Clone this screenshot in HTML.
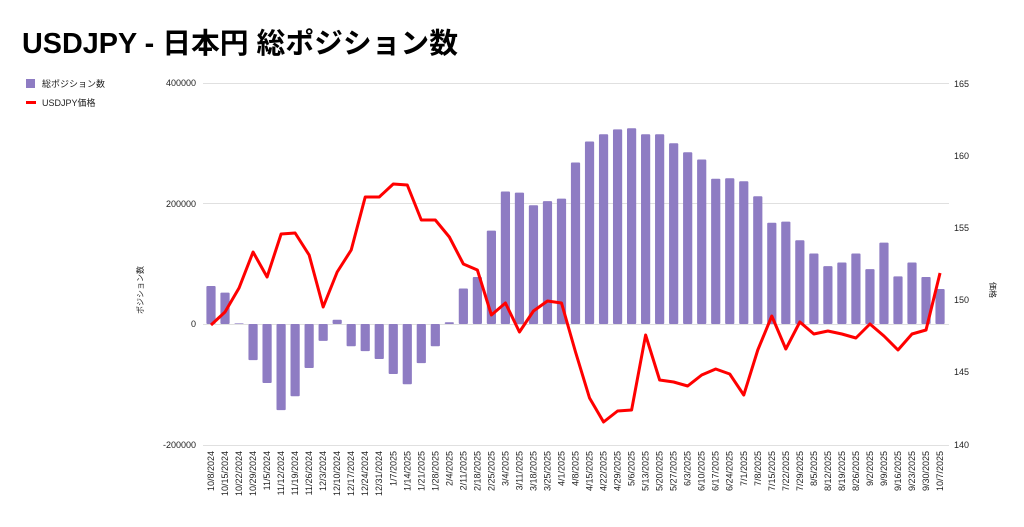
<!DOCTYPE html><html><head><meta charset="utf-8"><style>body{margin:0;background:#fff}svg{display:block}text{font-family:"Liberation Sans","Noto Sans CJK JP",sans-serif}</style></head><body>
<svg width="1024" height="527" xmlns="http://www.w3.org/2000/svg">
<text x="22" y="53" font-size="28.5" font-weight="bold" fill="#000" textLength="436" lengthAdjust="spacingAndGlyphs">USDJPY - 日本円 総ポジション数</text>
<rect x="26" y="79" width="9" height="9" fill="#8e7cc3"/><text x="42" y="87" font-size="9" fill="#222">総ポジション数</text>
<rect x="26" y="101" width="10" height="3" fill="#f00"/><text x="42" y="106" font-size="9" fill="#222">USDJPY価格</text>
<g stroke="#e0e0e0" stroke-width="1"><line x1="203" x2="949" y1="83.5" y2="83.5"/><line x1="203" x2="949" y1="203.5" y2="203.5"/><line x1="203" x2="949" y1="324.5" y2="324.5"/><line x1="203" x2="949" y1="445.5" y2="445.5"/></g>
<g font-size="9" fill="#222" text-anchor="end"><text x="196" y="86">400000</text><text x="196" y="207">200000</text><text x="196" y="327">0</text><text x="196" y="448">-200000</text></g>
<g font-size="9" fill="#222"><text x="954" y="87">165</text><text x="954" y="159">160</text><text x="954" y="231">155</text><text x="954" y="303">150</text><text x="954" y="375">145</text><text x="954" y="448">140</text></g>
<text transform="translate(143,290) rotate(-90)" font-size="8" fill="#222" text-anchor="middle">ポジション数</text>
<text transform="translate(990,290) rotate(90)" font-size="8" fill="#222" text-anchor="middle">価格</text>
<g id="bars" fill="#8e7cc3"></g>
<polyline id="line" fill="none" stroke="#f00" stroke-width="3" stroke-linejoin="round"/>
<g id="lbl" font-size="9" fill="#222"></g>
</svg>
<script>
var v=[63,52,1,-60,-98,-143,-120,-73,-28,7,-37,-45,-58,-83,-100,-65,-37,3,59,78,155,220,218,197,204,208,268,303,315,323,325,315,315,300,285,273,241,242,237,212,168,170,139,117,96,102,117,91,135,79,102,78,58];
var p=[325,312,288,252,277,234,233,255,307,272,250,197,197,184,185,220,220,237,264,270,315,303,332,311,301,303,352,398,422,411,410,335,380,382,386,375,369,374,395,350,316,349,322,334,331,334,338,324,336,350,334,330,273];
var ns="http://www.w3.org/2000/svg",b=document.getElementById('bars'),l=document.getElementById('lbl'),pts=[];
var d=new Date(2024,9,8);
for(var i=0;i<53;i++){var x=211+i*14.02;var h=v[i]*1000*120.5/200000;var r=document.createElementNS(ns,'rect');r.setAttribute('x',x-4.6);r.setAttribute('width',9.2);r.setAttribute('y',h>0?324-h:324);r.setAttribute('height',Math.abs(h));r.setAttribute('rx',1);b.appendChild(r);pts.push(x+','+p[i]);
var t=document.createElementNS(ns,'text');var s=(d.getMonth()+1)+'/'+d.getDate()+'/'+d.getFullYear();t.textContent=s;t.setAttribute('text-anchor','end');t.setAttribute('transform','translate('+(x+3)+',451) rotate(-90)');l.appendChild(t);d.setDate(d.getDate()+7);}
document.getElementById('line').setAttribute('points',pts.join(' '));
</script>
</body></html>
